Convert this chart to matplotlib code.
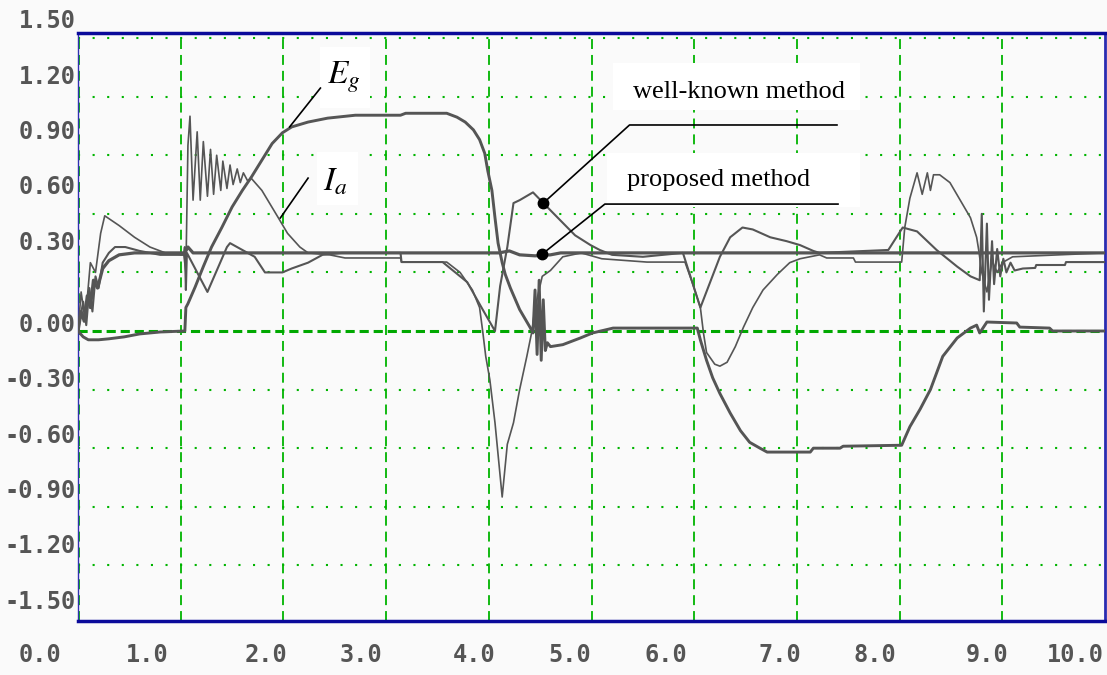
import matplotlib
matplotlib.use("Agg")
import matplotlib.pyplot as plt
import matplotlib.transforms as mtransforms
from matplotlib.patches import Rectangle

# time axis [s] and per-unit values
speed_prop_t = [0, 0.03, 0.06, 0.09, 0.12, 0.15, 0.19, 0.24, 0.3, 0.4, 0.55, 1.04, 1.07, 1.12,
                4.1, 4.2, 4.3, 4.45, 4.6, 4.7, 10.0]
speed_prop_v = [0, 0.10, 0.05, 0.18, 0.12, 0.26, 0.22, 0.32, 0.36, 0.39, 0.40, 0.40, 0.43, 0.40,
                0.40, 0.41, 0.39, 0.385, 0.39, 0.40, 0.40]

speed_known_t = [0, 0.05, 0.08, 0.11, 0.14, 0.17, 0.2, 0.24, 0.3, 0.36, 0.46, 0.6, 0.8, 1.03,
                 1.04, 1.05, 1.06, 1.26, 1.45, 1.48, 1.6, 1.72, 1.82, 1.99, 2.08, 2.24, 2.38,
                 2.57, 3.14, 3.15, 3.55, 3.79, 3.94, 4.06, 4.11, 4.18, 4.24, 4.30, 4.43, 4.55,
                 4.69, 4.84, 4.99, 5.08, 5.2, 5.5, 5.89, 6.06, 6.25, 6.35, 6.47, 6.57, 6.74,
                 6.90, 7.03, 7.16, 7.22, 7.89, 8.03, 8.17, 8.36, 8.56, 8.69, 8.78, 8.80, 8.82,
                 8.85, 8.87, 8.90, 8.92, 8.95, 8.98, 9.01, 9.04, 9.08, 9.12, 9.2, 9.32, 9.33,
                 9.61, 9.62, 10.0]
speed_known_v = [0, 0.15, 0.03, 0.22, 0.10, 0.28, 0.22, 0.35, 0.40, 0.43, 0.43, 0.41, 0.39, 0.39,
                 0.43, 0.21, 0.40, 0.20, 0.43, 0.45, 0.415, 0.38, 0.30, 0.30, 0.32, 0.35, 0.39,
                 0.40, 0.40, 0.353, 0.353, 0.25, 0.11, 0.0, 0.23, 0.43, 0.655, 0.67, 0.71, 0.645,
                 0.57, 0.49, 0.44, 0.415, 0.39, 0.38, 0.40, 0.12, 0.38, 0.48, 0.53, 0.52, 0.48,
                 0.46, 0.44, 0.41, 0.40, 0.415, 0.53, 0.51, 0.415, 0.33, 0.28, 0.26, 0.60, 0.10,
                 0.55, 0.16, 0.46, 0.24, 0.42, 0.28, 0.37, 0.30, 0.35, 0.31, 0.32, 0.323, 0.338,
                 0.338, 0.353, 0.353]

eg_t = [0, 0.05, 0.1, 0.2, 0.3, 0.45, 0.6, 0.8, 1.04, 1.05, 1.07, 1.14, 1.22, 1.30, 1.40, 1.50,
        1.60, 1.69, 1.79, 1.89, 1.99, 2.08, 2.24, 2.43, 2.70, 3.14, 3.19, 3.59, 3.69, 3.77,
        3.85, 3.91, 3.96, 3.99, 4.03, 4.06, 4.09, 4.13, 4.16, 4.21, 4.30, 4.40, 4.43, 4.45,
        4.47, 4.49, 4.51, 4.53, 4.55, 4.57, 4.60, 4.72, 4.89, 5.01, 5.21, 6.03, 6.06, 6.12,
        6.18, 6.25, 6.35, 6.45, 6.54, 6.64, 6.71, 7.13, 7.16, 7.42, 7.45, 8.02, 8.10, 8.20,
        8.30, 8.42, 8.56, 8.69, 8.75, 8.78, 8.85, 9.14, 9.17, 9.46, 9.49, 10.0]
eg_v = [0, -0.03, -0.045, -0.045, -0.04, -0.03, -0.015, -0.005, 0.0, 0.12, 0.14, 0.225, 0.33,
        0.43, 0.53, 0.635, 0.72, 0.79, 0.875, 0.96, 1.015, 1.045, 1.07, 1.09, 1.105, 1.105,
        1.115, 1.115, 1.095, 1.07, 1.03, 0.98, 0.91, 0.82, 0.72, 0.58, 0.45, 0.35, 0.29, 0.22,
        0.11, 0.02, -0.01, 0.21, -0.12, 0.26, -0.15, 0.16, -0.10, -0.06, -0.08, -0.07, -0.036,
        -0.01, 0.015, 0.015, -0.046, -0.15, -0.24, -0.32, -0.42, -0.51, -0.57, -0.60, -0.62,
        -0.62, -0.60, -0.60, -0.59, -0.585, -0.49, -0.40, -0.30, -0.13, -0.036, 0.015, 0.03,
        -0.01, 0.046, 0.041, 0.02, 0.015, 0.0, 0.0]

ia_t = [0, 0.03, 0.07, 0.12, 0.17, 0.22, 0.26, 0.4, 0.55, 0.7, 0.85, 1.03, 1.05, 1.07, 1.09,
        1.12, 1.16, 1.19, 1.22, 1.26, 1.29, 1.32, 1.35, 1.39, 1.41, 1.45, 1.48, 1.51, 1.55,
        1.58, 1.61, 1.65, 1.69, 1.79, 1.87, 1.95, 2.04, 2.16, 2.24, 2.45, 2.6, 3.14, 3.15,
        3.59, 3.72, 3.84, 3.91, 3.94, 3.97, 4.01, 4.06, 4.13, 4.18, 4.24, 4.30, 4.37, 4.42,
        4.45, 4.52, 4.60, 4.72, 4.9, 5.1, 5.54, 5.91, 5.98, 6.06, 6.09, 6.12, 6.20, 6.25,
        6.32, 6.40, 6.48, 6.57, 6.67, 6.81, 6.93, 7.03, 7.22, 7.29, 7.55, 7.57, 8.02, 8.05,
        8.10, 8.17, 8.22, 8.27, 8.30, 8.33, 8.39, 8.49, 8.59, 8.69, 8.75, 8.77, 8.80, 8.85,
        8.9, 8.95, 9.0, 9.1, 10.0]
ia_v = [0, 0.2, 0.05, 0.35, 0.3, 0.5, 0.59, 0.54, 0.48, 0.43, 0.40, 0.39, 0.30, 0.95, 1.1,
        0.67, 1.02, 0.67, 0.97, 0.69, 0.93, 0.70, 0.90, 0.72, 0.87, 0.73, 0.85, 0.75, 0.83,
        0.76, 0.81, 0.77, 0.78, 0.72, 0.65, 0.58, 0.50, 0.43, 0.40, 0.39, 0.374, 0.374, 0.353,
        0.353, 0.30, 0.21, 0.12, 0.0, -0.13, -0.25, -0.47, -0.85, -0.58, -0.47, -0.30, -0.13,
        0.0, 0.12, 0.28, 0.31, 0.38, 0.40, 0.37, 0.353, 0.353, 0.25, 0.12, -0.01, -0.11,
        -0.17, -0.18, -0.16, -0.08, 0.02, 0.12, 0.21, 0.29, 0.35, 0.37, 0.39, 0.374, 0.374,
        0.353, 0.353, 0.53, 0.68, 0.81, 0.70, 0.81, 0.72, 0.80, 0.80, 0.76, 0.67, 0.58, 0.48,
        0.415, 0.30, 0.20, 0.36, 0.30, 0.35, 0.38, 0.40]

ytick_vals = [1.5, 1.2, 0.9, 0.6, 0.3, 0.0, -0.3, -0.6, -0.9, -1.2, -1.5]
ytick_labels = ["1.50", "1.20", "0.90", "0.60", "0.30", "0.00", "-0.30", "-0.60", "-0.90",
                "-1.20", "-1.50"]
xtick_labels = ["0.0", "1.0", "2.0", "3.0", "4.0", "5.0", "6.0", "7.0", "8.0", "9.0", "10.0"]
# the scope software prints its x labels off the grid
xlabel_pos = [-0.37, 0.67, 1.83, 2.75, 3.86, 4.79, 5.72, 6.83, 7.76, 8.85, 9.71]

bg = "#fafafa"
green = "#00b400"
trace = "#555555"

plt.rcParams["mathtext.fontset"] = "stix"

fig = plt.figure(figsize=(11.07, 6.75), dpi=100, facecolor=bg)
ax = fig.add_axes([0.0705, 0.08, 0.9277, 0.8711])
ax.set_facecolor(bg)
ax.set_xlim(0, 10)
ax.set_ylim(-1.485, 1.526)
ax.set_xticks([])
ax.set_yticks([])

# grid
for x in range(0, 10):
    ax.axvline(x + (0.005 if x == 0 else 0), color=green, lw=1.3, ls=(0, (5.5, 3.3)), zorder=1)
for y in [-1.2, -0.9, -0.6, -0.3, 0.3, 0.6, 0.9, 1.2, 1.5]:
    ax.axhline(y, color=green, lw=1.5, ls=(0, (1, 6)), zorder=1)
ax.axhline(0, color="#00a800", lw=2.2, ls=(0, (3, 1.6)), zorder=1)

for side in ["top", "bottom"]:
    ax.spines[side].set_color("#0a0a9a")
    ax.spines[side].set_linewidth(2.5)
ax.spines["right"].set_color("#2a2ab0")
ax.spines["right"].set_linewidth(2)
ax.spines["left"].set_color("#3030b0")
ax.spines["left"].set_linewidth(1)

# white label boxes
for (x0, y0, w, h) in [(2.36, 1.142, 0.48, 0.312), (2.33, 0.645, 0.40, 0.272),
                       (5.21, 1.132, 2.40, 0.24), (5.15, 0.635, 2.46, 0.276)]:
    ax.add_patch(Rectangle((x0, y0), w, h, facecolor="white", edgecolor="none", zorder=2))

# traces
ax.plot(ia_t, ia_v, color=trace, lw=1.2, zorder=3)
ax.plot(speed_known_t, speed_known_v, color=trace, lw=1.5, zorder=3)
ax.plot(eg_t, eg_v, color=trace, lw=2.1, zorder=3)
ax.plot(speed_prop_t, speed_prop_v, color=trace, lw=2.3, zorder=3)

# annotations
ax.plot([2.06, 2.36], [1.045, 1.244], color="black", lw=1.2, zorder=4)
ax.plot([1.97, 2.24], [0.579, 0.783], color="black", lw=1.2, zorder=4)
ax.text(2.42, 1.265, "$E_g$", fontsize=24, ha="left", va="baseline", zorder=5)
ax.text(2.39, 0.722, "$I_a$", fontsize=24, ha="left", va="baseline", zorder=5)

ax.plot([4.53, 5.37, 7.39], [0.655, 1.055, 1.055], color="black", lw=1.2, zorder=4)
ax.plot([4.52, 5.13, 7.40], [0.394, 0.65, 0.65], color="black", lw=1.2, zorder=4)
ax.plot([4.53, 4.52], [0.655, 0.394], ls="none", marker="o", ms=7.5, color="black", zorder=5)
ax.text(5.40, 1.193, "well-known method", fontsize=19, family="Liberation Serif",
        ha="left", va="baseline", zorder=5)
ax.text(5.35, 0.742, "proposed method", fontsize=19, family="Liberation Serif",
        ha="left", va="baseline", zorder=5)

# tick labels, drawn as text because they sit off the grid lines
ytrans = mtransforms.blended_transform_factory(ax.transAxes, ax.transData)
for v, lab in zip(ytick_vals, ytick_labels):
    pos = v * 0.945 + (0.168 if v > 0 else 0.031)
    ax.text(-0.002, pos, lab, transform=ytrans, ha="right", va="center",
            family="DejaVu Sans Mono", fontsize=17, fontweight="bold", color="#555555",
            clip_on=False)

xtrans = mtransforms.blended_transform_factory(ax.transData, ax.transAxes)
for pos, lab in zip(xlabel_pos, xtick_labels):
    ax.text(pos, -0.058, lab, transform=xtrans, ha="center", va="center",
            family="DejaVu Sans Mono", fontsize=17, fontweight="bold", color="#555555",
            clip_on=False)

fig.savefig("out.png", dpi=100, facecolor=fig.get_facecolor())
